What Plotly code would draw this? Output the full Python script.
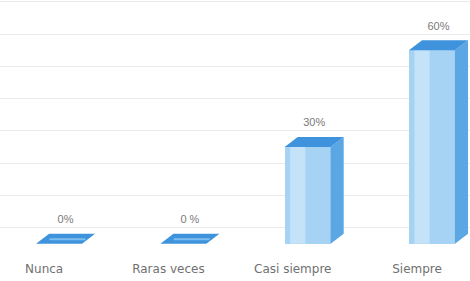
import plotly.graph_objects as go

categories = ["Nunca", "Raras veces", "Casi siempre", "Siempre"]
values = [0, 0, 30, 60]
value_labels = ["0%", "0 %", "30%", "60%"]

# 3D-look geometry (data units)
W = 0.37      # front face width
DX = 0.105    # depth offset along x
DY = 3.1      # depth offset along y (percent units)

FRONT = "#a6d3f3"
SIDE = "#5aa7e3"
TOP = "#3f93dd"

fig = go.Figure()

xs = list(range(len(categories)))

# front faces as real bars
fig.add_trace(go.Bar(x=xs, y=values, width=W, marker=dict(color=FRONT, line=dict(width=0)),
                     hoverinfo="skip", showlegend=False))

for i, v in zip(xs, values):
    l, r = i - W / 2, i + W / 2
    if v > 0:
        # side face
        fig.add_trace(go.Scatter(x=[r, r + DX, r + DX, r, r], y=[0, DY, v + DY, v, 0],
                                 mode="lines", fill="toself", fillcolor=SIDE,
                                 line=dict(width=0), hoverinfo="skip", showlegend=False))
        # lighter band on the front face
        fig.add_trace(go.Scatter(x=[l + W * 0.12, l + W * 0.45, l + W * 0.45, l + W * 0.12, l + W * 0.12],
                                 y=[0, 0, v, v, 0], mode="lines", fill="toself",
                                 fillcolor="rgba(205,232,250,0.75)", line=dict(width=0),
                                 hoverinfo="skip", showlegend=False))
    # top face
    fig.add_trace(go.Scatter(x=[l, r, r + DX, l + DX, l], y=[v, v, v + DY, v + DY, v],
                             mode="lines", fill="toself", fillcolor=TOP,
                             line=dict(width=0), hoverinfo="skip", showlegend=False))
    if v == 0:
        # lighter streak on the flat bars
        fig.add_trace(go.Scatter(x=[l + DX * 0.45 + 0.06, r + DX * 0.45 - 0.02],
                                 y=[DY * 0.45, DY * 0.45], mode="lines",
                                 line=dict(width=2, color="#7cbdf0"),
                                 hoverinfo="skip", showlegend=False))

# value labels
fig.add_trace(go.Scatter(x=[i + DX / 2 for i in xs], y=[v + DY + 4.2 for v in values],
                         mode="text", text=value_labels,
                         textfont=dict(family="Liberation Sans", size=11, color="#7a7a7a"),
                         hoverinfo="skip", showlegend=False))

fig.update_layout(
    width=470, height=281,
    margin=dict(l=0, r=0, t=0, b=21),
    paper_bgcolor="white", plot_bgcolor="white",
    bargap=0,
    xaxis=dict(range=[-0.475, 3.306], tickvals=[i - 0.12 for i in xs], ticktext=categories,
               showgrid=False, zeroline=False, showline=False, ticks="",
               tickfont=dict(family="DejaVu Sans", size=12, color="#707070")),
    yaxis=dict(range=[-5.0, 75.6], tick0=5, dtick=10, showgrid=True, gridcolor="#ebebeb",
               gridwidth=1, zeroline=False, showticklabels=False, showline=False, ticks=""),
)

fig.write_html("out.html", config={"displayModeBar": False})

# remove default page margin so the figure sits at the window origin
with open("out.html", "r", encoding="utf-8") as f:
    html = f.read()
html = html.replace("<head>", "<head><style>html,body{margin:0;padding:0;overflow:hidden;}</style>", 1)
with open("out.html", "w", encoding="utf-8") as f:
    f.write(html)
